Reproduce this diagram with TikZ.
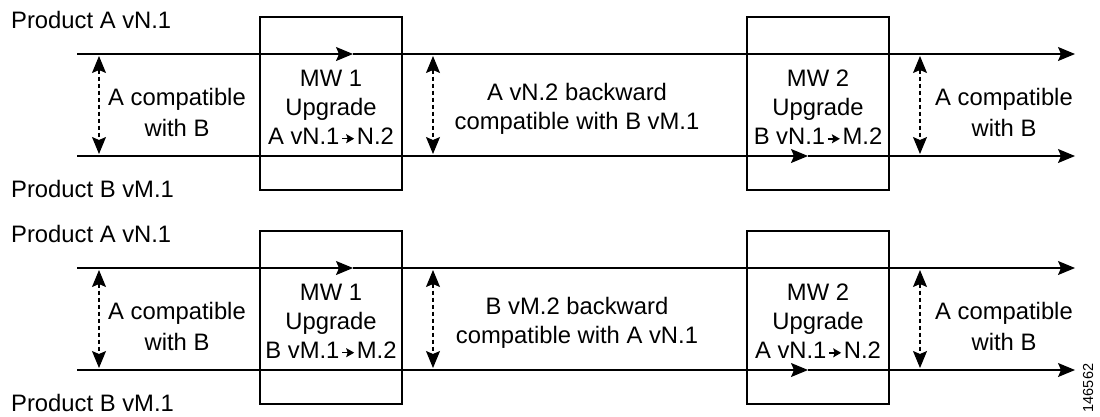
\documentclass[tikz,border=0pt]{standalone}
\usepackage{fontspec}
\setmainfont{Liberation Sans}
\usetikzlibrary{positioning,arrows.meta}
\tikzset{
    >=Stealth,
    headA/.tip = {Stealth[length=17pt, width=14pt, inset=3pt]},
    timeline/.style = {line width=1.3pt, -headA},
    compat/.style = {line width=1.1pt, dash pattern=on 4pt off 3pt, headA-headA},
    mwbox/.style = {draw, line width=1.1pt, minimum width=142pt, minimum height=173pt, inner sep=0pt},
    note/.style = {align=center, inner sep=0pt},
    wide/.style = {note, font=\fontsize{23.8pt}{31pt}\selectfont},
    product/.style = {anchor=base west, inner sep=0pt},
}
\newcommand{\vto}{\kern2pt\tikz[baseline=-6pt]\draw[line width=1.4pt, -{Stealth[length=8pt, width=9pt, inset=1.5pt]}] (0pt,0pt) -- (12pt,0pt);\kern2pt}

\begin{document}
\begin{tikzpicture}[x=1pt, y=-1pt, font=\fontsize{23.8pt}{29pt}\selectfont]
    \useasboundingbox (0,0) rectangle (1100,416);

    \foreach \p/\dy/\upone/\midtxt/\uptwo in {
        1/0/{A vN.1\vto N.2}/{A vN.2 backward\\compatible with B vM.1}/{B vN.1\vto M.2},
        2/214/{B vM.1\vto M.2}/{B vM.2 backward\\compatible with A vN.1}/{A vN.1\vto N.2}} {
    \begin{scope}[shift={(0,\dy)}]
        \node[product] (prodA-\p) at (11,28) {Product A vN.1};
        \node[product] (prodB-\p) at (11,197) {Product B vM.1};

        \node[mwbox] (mw1-\p) at (331,103.5) {};
        \node[mwbox] (mw2-\p) at (818,103.5) {};
        \node[note] (up1-\p) at (331,107.5) {MW 1\\Upgrade\\\upone};
        \node[note] (up2-\p) at (818,107.5) {MW 2\\Upgrade\\\uptwo};

        \coordinate (aL-\p) at (77,54);
        \coordinate (aM-\p) at (353,54);
        \coordinate (aR-\p) at (1075,54);
        \coordinate (bL-\p) at (77,156);
        \coordinate (bM-\p) at (808,156);
        \coordinate (bR-\p) at (1075,156);
        \draw[timeline] (aL-\p) -- (aM-\p);
        \draw[timeline] (aM-\p) -- (aR-\p);
        \draw[timeline] (bL-\p) -- (bM-\p);
        \draw[timeline] (bM-\p) -- (bR-\p);

        \node[wide] (ok1-\p) at (177,112) {A compatible\\with B};
        \node[note] (back-\p) at (577,109) {\midtxt};
        \node[wide] (ok2-\p) at (1004,112) {A compatible\\with B};

        \foreach \x/\n in {99/1, 433/2, 920/3} {
            \coordinate (ct\n-\p) at (\x,56);
            \coordinate (cb\n-\p) at (\x,154);
            \draw[compat] (ct\n-\p) -- (cb\n-\p);
        }
    \end{scope}
    }

    \node[rotate=90, inner sep=0pt, font=\fontsize{14.5pt}{17pt}\selectfont] (figid) at (1088,388) {146562};
\end{tikzpicture}
\end{document}
